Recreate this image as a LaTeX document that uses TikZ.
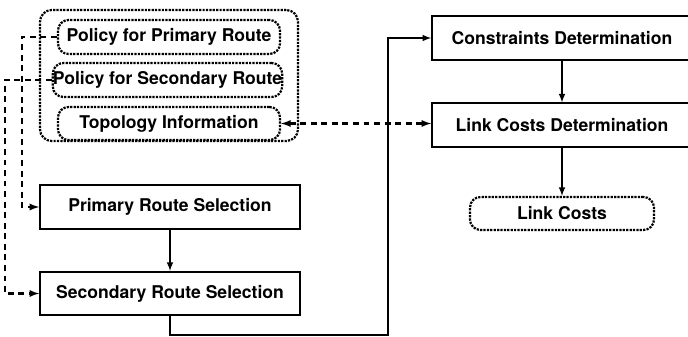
\documentclass[tikz,border=0pt]{standalone}
\usepackage{fontspec}
\setmainfont{TeX Gyre Heros}
\usetikzlibrary{arrows}

\begin{document}
\begin{tikzpicture}[x=0.03cm, y=-0.03cm, >=latex,
      every node/.append style={font=\bfseries\fontsize{15}{17}\selectfont, inner sep=0pt},
      line width=1.5pt]
    \tikzstyle{stage} = [draw, rectangle, minimum width=7.8cm, minimum height=1.3cm]
    \tikzstyle{store} = [draw, densely dotted, line width=1.9pt, rounded corners=9pt, minimum width=6.66cm, minimum height=1.02cm]
    \tikzstyle{link} = [line width=1.8pt, dash pattern=on 5pt off 4pt]
    \useasboundingbox (0,0) rectangle (688,337);
    \clip (0,0) rectangle (688,337);
    % inputs
    \node (group) [draw, densely dotted, line width=1.9pt, rounded corners=10pt, minimum width=7.74cm, minimum height=3.93cm] at (169,75.5) {};
    \node (pol1) [store] at (169,37) {Policy for Primary Route};
    \node (pol2) [store, minimum width=6.75cm] at (167.5,80) {Policy for Secondary Route};
    \node (topo) [store, minimum height=0.99cm] at (169,123.5) {Topology Information};
    % route selection
    \node (prim) [stage] at (170,207) {Primary Route Selection};
    \node (sec) [stage] at (170,293.5) {Secondary Route Selection};
    % link cost side
    \node (cons) [stage] at (562,38) {Constraints Determination};
    \node (lcd) [stage] at (562,125) {Link Costs Determination};
    \node (lc) [store, minimum width=5.52cm, minimum height=0.99cm] at (562,213.5) {Link Costs};
    \coordinate (bend) at (388,335);
    \draw[->] (prim) -- (sec);
    \draw[->] (cons) -- (lcd);
    \draw[->] (lcd) -- (lc);
    \draw[->] (sec.south) |- (bend) |- (cons.west);
    \draw[->, link] (pol1.west) -- ++(-35,0) |- (prim.west);
    \draw[->, link] (pol2.west) -- ++(-47,0) |- (sec.west);
    \draw[<->, link] (topo.east) -- (topo.east -| lcd.west);
\end{tikzpicture}
\end{document}
